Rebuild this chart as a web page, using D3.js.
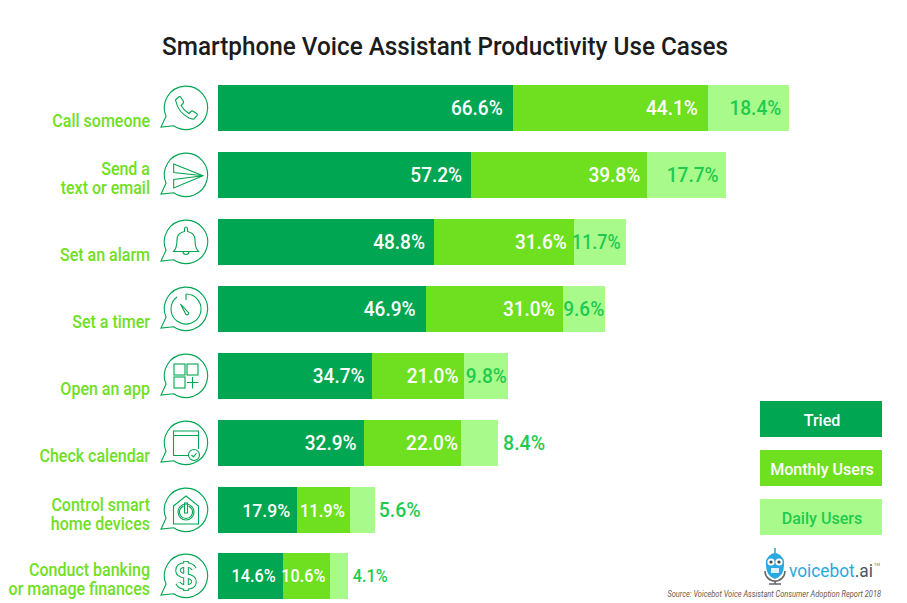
<!DOCTYPE html>
<html>
<head>
<meta charset="utf-8">
<script src="https://cdn.jsdelivr.net/npm/d3@7"></script>
<style>
html,body{margin:0;padding:0;background:#fff;overflow:hidden}
text{font-family:Roboto,sans-serif}
</style>
</head>
<body>
<svg id="chart" width="907" height="603"></svg>
<script>
// data
var categories = [
  ["Call someone"],
  ["Send a","text or email"],
  ["Set an alarm"],
  ["Set a timer"],
  ["Open an app"],
  ["Check calendar"],
  ["Control smart","home devices"],
  ["Conduct banking","or manage finances"]
];
var tried   = [66.6,57.2,48.8,46.9,34.7,32.9,17.9,14.6];
var monthly = [44.1,39.8,31.6,31.0,21.0,22.0,11.9,10.6];
var daily   = [18.4,17.7,11.7,9.6,9.8,8.4,5.6,4.1];
var seriesNames = ["Tried","Monthly Users","Daily Users"];

// how far each value label sits inside the end of its bar
var triedPad   = [10,9,9,10,7,7,7,7];
var monthlyPad = [10,7,7,8,6,3,5,4];
var dailyPad   = [8,7,5,1,1];

var green = "#00a651", lime = "#6fe01f", pale = "#a8fb8a", labelGreen = "#1ecb4f";

var svg = d3.select("#chart");
var x = d3.scaleLinear().domain([0,100]).range([218,660.5]);
var band = d3.scaleBand().domain(d3.range(8)).range([85,599.44]).paddingInner(0.3126);
function y(i){ return Math.round(band(i)); }

function label(g,px,py,str,size,anchor,fill,squeeze){
  return g.append("text")
    .attr("transform","translate("+px+","+py+") scale("+(squeeze||0.93)+",1)")
    .attr("text-anchor",anchor)
    .attr("font-size",size)
    .attr("font-weight",500)
    .attr("fill",fill)
    .text(str);
}
// the "11" pairs are set tighter in the original
function valueSqueeze(v){ return v>=11 && v<12 ? 0.87 : 0.93; }

// title
svg.append("text").attr("x",445).attr("y",55).attr("text-anchor","middle")
  .attr("font-size",26.5).attr("font-weight",500).attr("fill","#1c1c1c")
  .attr("textLength",566).attr("lengthAdjust","spacingAndGlyphs")
  .text("Smartphone Voice Assistant Productivity Use Cases");

// bars
var series = [tried,monthly,daily];
var fills = [green,lime,pale];
var stack = d3.stack().keys([0,1,2]).value(function(d,k){return series[k][d];})(d3.range(8));
svg.selectAll("g.series").data(stack).enter().append("g").attr("class","series")
  .attr("fill",function(d,i){return fills[i];})
  .attr("shape-rendering","crispEdges")
  .selectAll("rect").data(function(d){return d;}).enter().append("rect")
  .attr("x",function(d){return x(d[0]);})
  .attr("y",function(d,i){return y(i);})
  .attr("width",function(d){return x(d[1])-x(d[0]);})
  .attr("height",46);

// value labels
var labels = svg.append("g");
d3.range(8).forEach(function(i){
  var size = i==7 ? 17.5 : (i==6 ? 19 : 20.5);
  var base = y(i)+23+size*0.36;
  label(labels,x(tried[i])-triedPad[i],base,tried[i].toFixed(1)+"%",size,"end","#fff");
  label(labels,x(tried[i]+monthly[i])-monthlyPad[i],base,monthly[i].toFixed(1)+"%",size,"end","#fff",valueSqueeze(monthly[i]));
  var dEnd = x(tried[i]+monthly[i]+daily[i]);
  if(i>=5){
    label(labels,dEnd+(i==6 ? 4 : 5),base,daily[i].toFixed(1)+"%",i==7 ? 17.5 : 21,"start",labelGreen);
  }else{
    label(labels,dEnd-dailyPad[i],base,daily[i].toFixed(1)+"%",size,"end",labelGreen,valueSqueeze(daily[i]));
  }
});

// category labels
var cats = svg.append("g");
categories.forEach(function(lines,i){
  var last = y(i)+(i==6 ? 43 : 42);
  lines.forEach(function(t,j){
    label(cats,150,last-(lines.length-1-j)*19,t,17.8,"end",lime,0.9);
  });
});

// icons, drawn around the bubble centre
var bubble = "M-20,8.3L-25,19L-12.3,17.7A21.7,21.7 0 1 0 -20,8.3Z";
var iconStroke = 1.1;
function line(g,d,w){
  return g.append("path").attr("d",d).attr("fill","none").attr("stroke",green).attr("stroke-width",w||iconStroke);
}
var icons = [
  function(g){ line(g,"M-10.5,-8L-7.5,-11Q-6,-12 -5,-10.5L-2.5,-6.5Q-2,-5.5 -3,-4.5L-5,-2.5Q-1.5,3 3,5.5L5,3.5Q6,2.5 7,3.2L10.5,5.5Q12,6.5 10.8,8L8,11Q6.5,11.5 3,10Q-8,4.5 -10.5,-8Z"); },
  function(g){ line(g,"M-12.3,-11L17,0.7L-12.3,13L-12.3,4.5L17,0.7L-12.3,-2.5Z"); },
  function(g){
    line(g,"M-12.5,9.5Q-9,6 -9,-2Q-9,-9 -1.5,-10.5Q-2,-15 0,-15Q2,-15 1.5,-10.5Q9,-9 9,-2Q9,6 12.5,9.5Z");
    line(g,"M-3,9.5A3,3 0 0 0 3,9.5");
  },
  function(g){
    line(g,"M0,-15A15,15 0 1 1 -9,-12");
    line(g,"M0,-15L0,-9");
    line(g,"M-5.5,-5L2.8,4A1.8,1.8 0 0 1 0,5.5Z");
  },
  function(g){
    [[-12,-12],[1,-12],[-12,1]].forEach(function(p){
      g.append("rect").attr("x",p[0]).attr("y",p[1]).attr("width",11).attr("height",11)
        .attr("fill","none").attr("stroke",green).attr("stroke-width",iconStroke);
    });
    line(g,"M1,6.5L12.5,6.5M6.5,1L6.5,12.5");
  },
  function(g){
    line(g,"M7,12.5L-12.5,12.5L-12.5,-12L12.5,-12L12.5,6M-12.5,-7.5L12.5,-7.5");
    g.append("circle").attr("cx",8).attr("cy",12).attr("r",5.5).attr("fill","#fff").attr("stroke",green).attr("stroke-width",iconStroke);
    line(g,"M5.5,12L7.5,14L10.5,10");
  },
  function(g){
    line(g,"M-12.5,-4L0,-14L12.5,-4L12.5,14L-12.5,14Z");
    g.append("circle").attr("cx",0).attr("cy",2).attr("r",8).attr("fill","none").attr("stroke",green).attr("stroke-width",iconStroke);
    line(g,"M-2.5,-4A6.5,6.5 0 1 0 2.5,-4M-1.5,-7L-1.5,3L1.5,3L1.5,-7Z");
  },
  function(g){
    var s = "M8,-7Q6,-11 0,-11Q-8,-11 -8,-5.5Q-8,-1 0,0Q8,1 8,5.5Q8,11 0,11Q-6,11 -8,7";
    line(g,s,5.6);
    line(g,"M0,-15L0,15",5.6);
    g.append("path").attr("d",s).attr("fill","none").attr("stroke","#fff").attr("stroke-width",3.6);
    g.append("path").attr("d","M0,-14.2L0,14.2").attr("stroke","#fff").attr("stroke-width",3.6);
  }
];
icons.forEach(function(draw,i){
  var g = svg.append("g").attr("transform","translate(186,"+(y(i)+23)+")");
  line(g,bubble);
  draw(g);
});

// legend
var legendFill = [green,lime,pale], legendText = ["#fff","#fff",labelGreen];
seriesNames.forEach(function(name,i){
  var top = 401+i*49;
  svg.append("rect").attr("x",760).attr("y",top).attr("width",122).attr("height",36).attr("fill",legendFill[i]);
  label(svg,822,top+24.5,name,17.3,"middle",legendText[i]);
});

// logo
var logo = svg.append("g").attr("transform","translate(775,568)");
logo.append("path").attr("d","M-10,3A10,10 0 0 0 10,3").attr("fill","none").attr("stroke","#666").attr("stroke-width",1.6);
logo.append("path").attr("d","M0,13L0,16M-6,16L6,16").attr("fill","none").attr("stroke","#666").attr("stroke-width",1.6);
logo.append("path").attr("d","M0,-15L0,-20").attr("stroke","#2aa8e0").attr("stroke-width",1.6);
logo.append("path").attr("d","M-5,-13Q0,-17 5,-13Q10,-9 9,-3Q9,8 0,11Q-9,8 -9,-3Q-10,-9 -5,-13Z").attr("fill","#2aa8e0");
[-4,4].forEach(function(dx){
  logo.append("circle").attr("cx",dx).attr("cy",-6).attr("r",3.6).attr("fill","#fff");
  logo.append("circle").attr("cx",dx).attr("cy",-6).attr("r",1.6).attr("fill","#444");
});
logo.append("rect").attr("x",-4).attr("y",0).attr("width",8).attr("height",5).attr("fill","#dff2fb");
var brand = svg.append("text").attr("transform","translate(789,577) scale(0.91,1)")
  .attr("font-size",19).attr("fill","#2aa8e0");
brand.append("tspan").text("voicebot");
brand.append("tspan").attr("fill","#4a5560").text(".ai");
svg.append("text").attr("x",874).attr("y",566).attr("font-size",4).attr("fill","#777").text("TM");

// source
svg.append("text").attr("transform","translate(881,597) scale(0.877,1)").attr("text-anchor","end")
  .attr("font-size",8.5).attr("font-style","italic").attr("fill","#6b5a4a")
  .text("Source: Voicebot Voice Assistant Consumer Adoption Report 2018");
</script>
</body>
</html>
